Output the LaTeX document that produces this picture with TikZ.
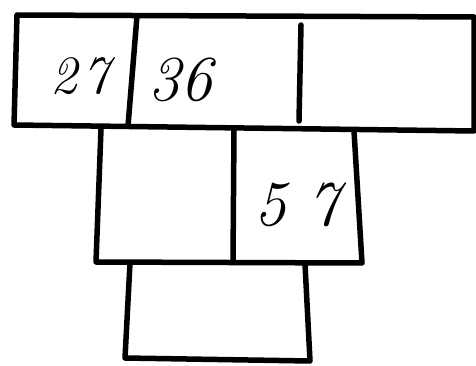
\documentclass[tikz,border=0pt]{standalone}
\begin{document}
\begin{tikzpicture}[x=1pt,y=-1pt,
  edge/.style={line width=5.5pt,line cap=round,line join=round,black},
  num/.style={font=\fontsize{64}{64}\selectfont\itshape,inner sep=0pt}]
\useasboundingbox (0,0) rectangle (476,366);
% corner coordinates
\coordinate (a1) at (17,15);
\coordinate (a2) at (474,17);
\coordinate (a3) at (474,131);
\coordinate (a4) at (14,125);
\coordinate (d1t) at (137,16);
\coordinate (d1b) at (128,126);
\coordinate (d2t) at (301,25);
\coordinate (d2b) at (299,121);
% middle row
\coordinate (m1) at (101,129);
\coordinate (m4) at (96,262);
\coordinate (m2) at (354,131);
\coordinate (m3) at (362,263);
\coordinate (mdt) at (234,129);
\coordinate (mdb) at (233,262);
% bottom row
\coordinate (b1) at (130,263);
\coordinate (b4) at (125,358);
\coordinate (b2) at (305,264);
\coordinate (b3) at (310,361);
% top row
\draw[edge] (a1) -- (a2) -- (a3) -- (a4) -- cycle;
\draw[edge] (d1t) -- (d1b);
\draw[edge] (d2t) -- (d2b);
% middle row
\draw[edge] (m1) -- (m4) -- (m3) -- (m2);
\draw[edge] (mdt) -- (mdb);
% bottom row
\draw[edge] (b1) -- (b4) -- (b3) -- (b2);
% numbers
\node[num,font=\fontsize{54}{54}\selectfont\itshape] (n27) at (80,76) {2\hspace{6pt}7};
\node[num] (n36) at (180,80) {36};
\node[num] (n57) at (297,205) {5\hspace{22pt}7};
\end{tikzpicture}
\end{document}
